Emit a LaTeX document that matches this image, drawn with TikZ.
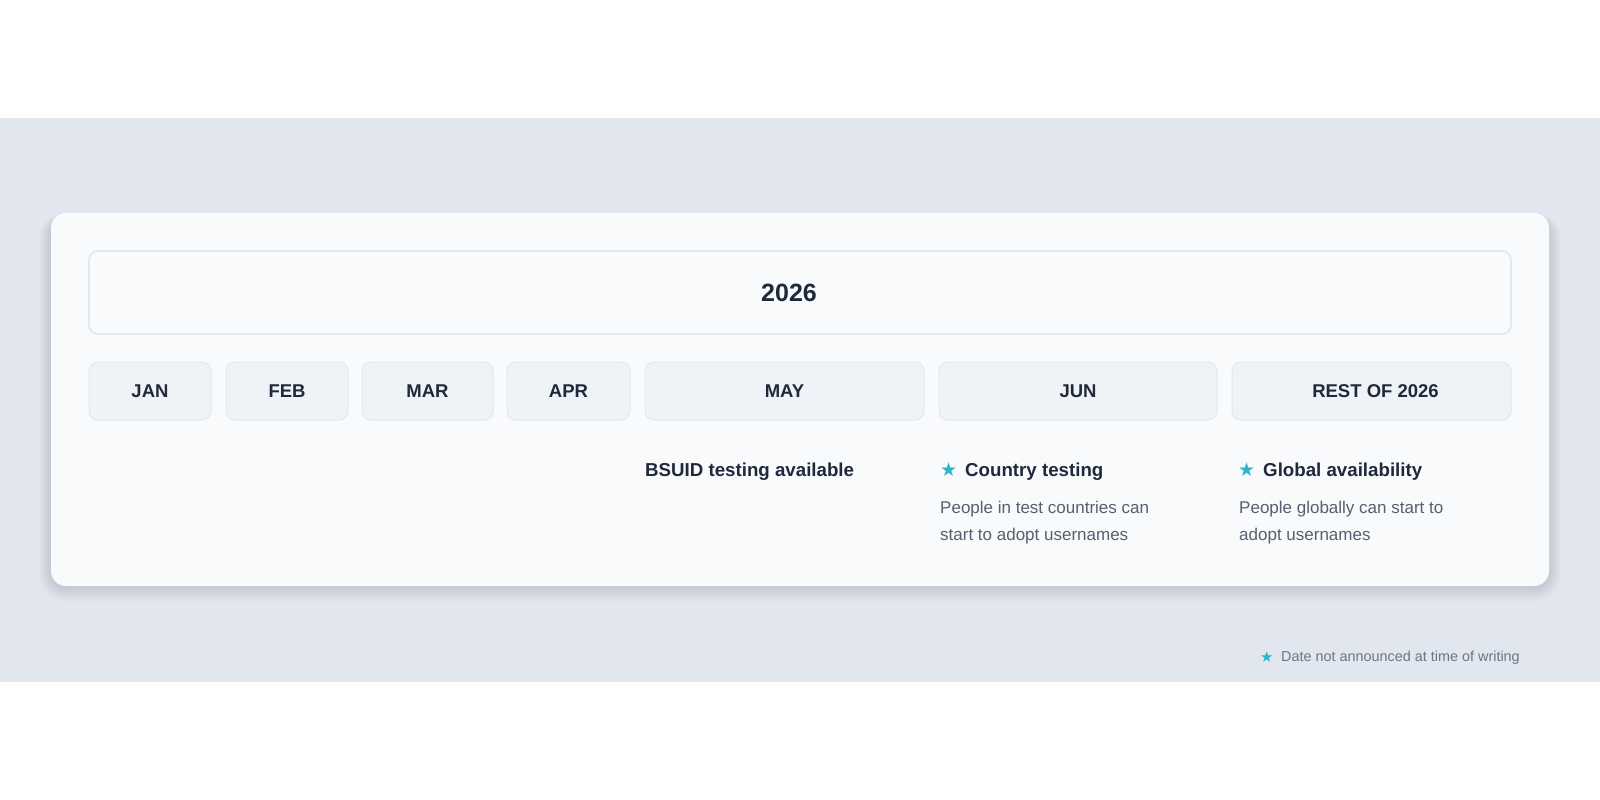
\documentclass[tikz,border=0pt]{standalone}
\usepackage{fontspec}
\setmainfont{Liberation Sans}
\newfontfamily\starfont{DejaVu Sans}

\definecolor{bandgray}{HTML}{E2E7EF}
\definecolor{cardfill}{HTML}{F8FAFC}
\definecolor{yearline}{HTML}{DFE8F0}
\definecolor{monthfill}{HTML}{EFF2F7}
\definecolor{monthline}{HTML}{E3E8EF}
\definecolor{inkdark}{HTML}{1E293B}
\definecolor{inkgray}{HTML}{556070}
\definecolor{notegray}{HTML}{6B7585}
\definecolor{starteal}{HTML}{2BB7C9}

\tikzset{
	monthbox/.style={draw=monthline, fill=monthfill, line width=1pt, rounded corners=9pt,
		minimum height=58pt, inner sep=0pt, text height=13pt, text depth=0pt,
		text=inkdark, font=\fontsize{18.5}{20}\selectfont\bfseries},
	headline/.style={anchor=base west, inner sep=0pt, text=inkdark, font=\fontsize{18.7}{22}\selectfont\bfseries},
	descline/.style={anchor=base west, inner sep=0pt, text=inkgray, font=\fontsize{17}{18}\selectfont},
	starmark/.style={anchor=base west, inner sep=0pt, text=starteal, font=\starfont\fontsize{19}{20}\selectfont}
}

\begin{document}
\begin{tikzpicture}[x=1pt,y=-1pt]
	\useasboundingbox (0,0) rectangle (1600,800);
	\fill[white] (0,0) rectangle (1600,800);
	\fill[bandgray] (0,118) rectangle (1600,682);

	% soft shadow under the card
	\foreach \s in {1,...,14}
		\fill[black, opacity=0.007, rounded corners=15pt+\s pt]
			(51-\s*0.9,213+6-\s*0.5) rectangle (1549+\s*0.9,586+1+\s*1.1);

	% card
	\node[fill=cardfill, rounded corners=15pt, minimum width=1498pt, minimum height=373pt,
		inner sep=0pt] (card) at (800,399.5) {};

	% year
	\node[draw=yearline, fill=cardfill, line width=1.6pt, rounded corners=9pt, minimum width=1422pt,
		minimum height=83pt] (year) at (800,292.5) {};
	\node[inner sep=0pt, text=inkdark, font=\fontsize{25}{28}\selectfont\bfseries] (yearlabel) at (year.center) [xshift=-11pt] {2026};

	% months
	\node[monthbox, minimum width=122pt] (jan) at (150,391) {JAN};
	\node[monthbox, minimum width=122pt] (feb) at (287,391) {FEB};
	\node[monthbox, minimum width=131pt] (mar) at (427.5,391) {MAR};
	\node[monthbox, minimum width=123pt] (apr) at (568.5,391) {APR};
	\node[monthbox, minimum width=279pt] (may) at (784.5,391) {MAY};
	\node[monthbox, minimum width=278pt] (jun) at (1078,391) {JUN};
	\node[monthbox, minimum width=279pt] (rest) at (1371.5,391) {\hspace{8pt}REST OF 2026};

	% milestones
	\node[headline] (bsuid) at (645,476.5) {BSUID testing available};

	\node[starmark] (starjun) at (940,476.5) {★};
	\node[headline] (country) at (965,476.5) {Country testing};
	\node[descline] (countrya) at (940,513.5) {People in test countries can};
	\node[descline] (countryb) at (940,540.5) {start to adopt usernames};

	\node[starmark] (starrest) at (1238,476.5) {★};
	\node[headline] (global) at (1263,476.5) {Global availability};
	\node[descline] (globala) at (1239,513.5) {People globally can start to};
	\node[descline] (globalb) at (1239,540.5) {adopt usernames};

	% footnote
	\node[starmark, font=\starfont\fontsize{15}{16}\selectfont] (starnote) at (1260,662) {★};
	\node[descline, text=notegray, font=\fontsize{14.4}{16}\selectfont] (note) at (1281,661) {Date not announced at time of writing};
\end{tikzpicture}
\end{document}
